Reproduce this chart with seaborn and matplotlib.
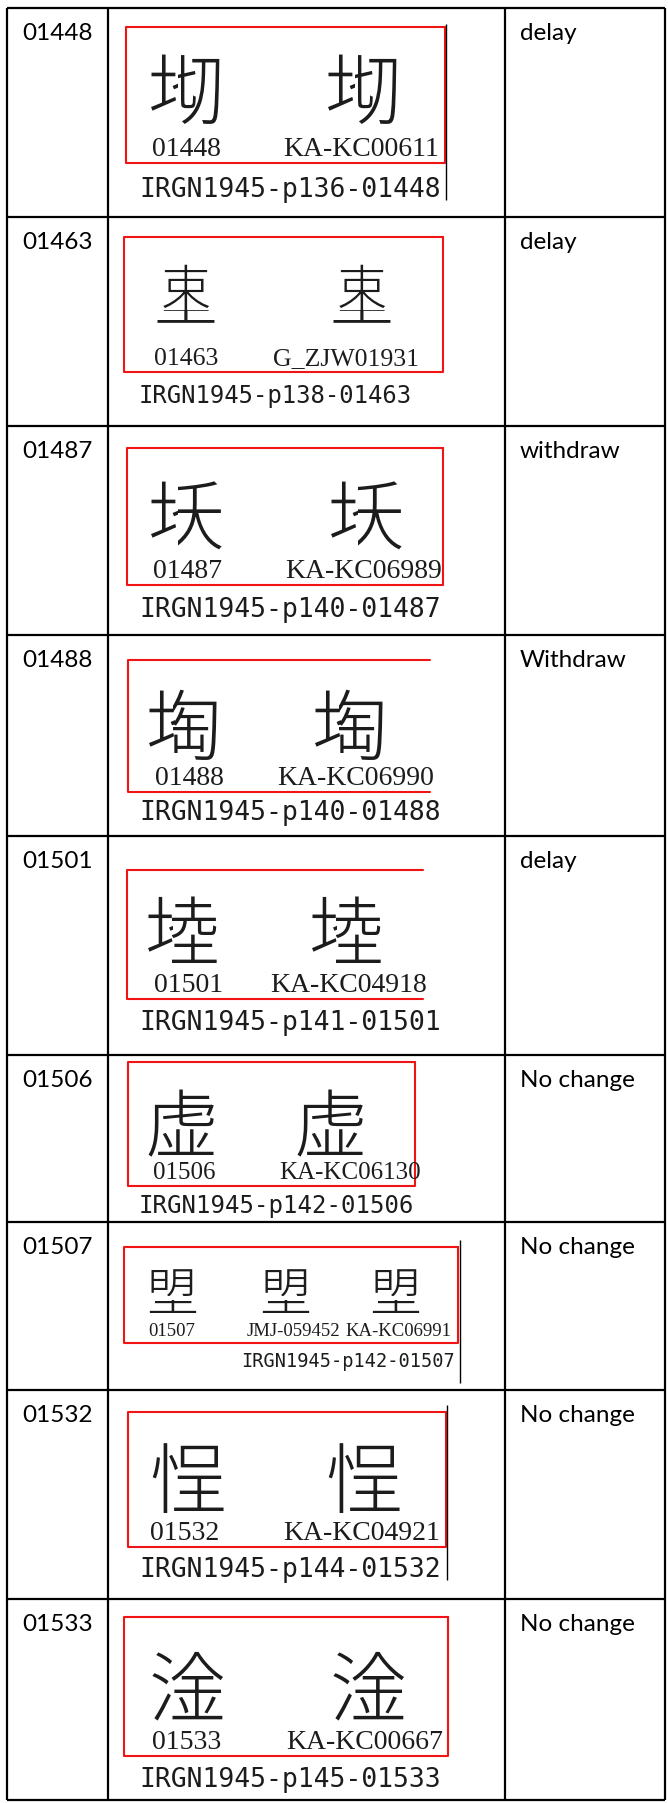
"""
IRGN1945 字形处理意见表：按参考截图重绘为表格图。

每行包含序号、字形截图（红框内为字形与来源编号，下方为 IRGN 页码）和处理意见。
未编码的字形用现有汉字的部件拼合（按矩形裁剪文字）来近似。
"""

import matplotlib

matplotlib.use("Agg")
import matplotlib.pyplot as plt
import seaborn as sns
from matplotlib.transforms import Bbox


# ---- 表格内容 ----
ROW_IDS = ["01448", "01463", "01487", "01488", "01501", "01506", "01507", "01532", "01533"]
STATUS = ["delay", "delay", "withdraw", "Withdraw", "delay",
          "No change", "No change", "No change", "No change"]
SOURCE_LABELS = [
    ["01448", "KA-KC00611"],
    ["01463", "G_ZJW01931"],
    ["01487", "KA-KC06989"],
    ["01488", "KA-KC06990"],
    ["01501", "KA-KC04918"],
    ["01506", "KA-KC06130"],
    ["01507", "JMJ-059452", "KA-KC06991"],
    ["01532", "KA-KC04921"],
    ["01533", "KA-KC00667"],
]
PAGES = ["p136", "p138", "p140", "p140", "p141", "p142", "p142", "p144", "p145"]

# 字形部件：(汉字, 缩放, x 偏移, y 偏移, 裁剪框 x0, y0, x1, y1)，单位为字身宽度
GLYPH_PIECES = {
    "01448": [("地", 1, 0, 0, (0, 0, .40, 1.1)), ("砌", 1, 0, 0, (.40, 0, 1, 1.1))],
    "01463": [("束", .78, .11, .25, (0, .27, 1, 1.1)), ("壁", 1, 0, 0, (0, 0, 1, .27))],
    "01487": [("地", 1, 0, 0, (0, 0, .40, 1.1)), ("沃", 1, 0, 0, (.40, 0, 1, 1.1))],
    "01488": [("地", 1, 0, 0, (0, 0, .38, 1.1)), ("淘", 1, 0, 0, (.36, 0, 1, 1.1))],
    "01501": [("地", 1, 0, 0, (0, 0, .38, 1.1)), ("陸", 1, 0, 0, (.36, 0, 1, 1.1))],
    "01506": [("虚", 1, 0, 0, (0, 0, 1, 1.1))],
    "01507": [("盟", 1, 0, 0, (0, .40, 1, 1.1)), ("壁", 1, 0, 0, (0, 0, 1, .33))],
    "01532": [("悜", 1, 0, 0, (0, 0, 1, 1.1))],
    "01533": [("淦", 1, 0, 0, (0, 0, 1, 1.1))],
}

# ---- 版面（像素） ----
W, H = 668, 1803
ROW_EDGES = [8, 217, 426, 635, 836, 1055, 1222, 1390, 1599, 1800]
COL_EDGES = [7, 108, 505, 665]
RED_BOXES = [  # x0, x1, y0, y1, 是否有右边
    (126, 445, 27, 163, True),
    (124, 443, 237, 372, True),
    (127, 443, 448, 585, True),
    (128, 430, 660, 792, False),
    (127, 423, 870, 999, False),
    (128, 415, 1062, 1186, True),
    (124, 458, 1247, 1343, True),
    (128, 446, 1412, 1547, True),
    (124, 448, 1617, 1756, True),
]
GLYPH_X = [[186, 363], [186, 362], [186, 366], [184, 350], [182, 346],
           [181, 330], [172, 285, 395], [188, 364], [187, 368]]
LABEL_X = [[186, 361], [186, 346], [187, 364], [189, 356], [189, 349],
           [184, 350], [172, 293, 398], [185, 362], [187, 365]]
GLYPH_EM = [77, 64, 77, 77, 75, 74, 52, 77, 77]
GLYPH_BOTTOM = [124, 325, 551, 760, 965, 1157, 1315, 1513, 1722]
LABEL_SIZE = [20, 18.5, 20, 20, 20, 18, 13.5, 20, 20]
IRGN_X = [139, 139, 139, 139, 139, 139, 241, 139, 139]
IRGN_SIZE = [19, 17.2, 19, 19, 19, 17.3, 13.4, 19, 19]
IRGN_BASE = [197, 403, 617, 820, 1030, 1213, 1367, 1577, 1787]
CURSOR_LINES = [(446, 24, 200), (460, 1240, 1383), (447, 1405, 1580)]

CJK = ["Noto Sans CJK JP", "DejaVu Sans"]
INK = "#1c1c1c"
RED = "#f01414"


def to_display_box(ax, x0, y0, x1, y1):
    """数据坐标矩形转为显示坐标 Bbox，用于文字裁剪。"""
    (ax0, ay0), (ax1, ay1) = ax.transData.transform([(x0, y0), (x1, y1)])
    return Bbox.from_extents(min(ax0, ax1), min(ay0, ay1), max(ax0, ax1), max(ay0, ay1))


def draw_glyph(ax, key, cx, ink_bottom, em):
    """用裁剪后的部件拼出一个字形。"""
    left = cx - em / 2
    box_bottom = ink_bottom + 0.04 * em
    for char, scale, ox, oy, (c0, r0, c1, r1) in GLYPH_PIECES[key]:
        size = em * scale
        base = box_bottom - oy * em - 0.12 * size
        t = ax.text(left + ox * em, base, char, fontsize=size * 0.72, ha="left",
                    va="baseline", family=CJK, fontweight="light", color=INK, clip_on=True)
        t.set_clip_box(to_display_box(ax, left + c0 * em, box_bottom - r1 * em,
                                      left + c1 * em, box_bottom - r0 * em))


def main() -> None:
    sns.set_theme(style="white")
    plt.rcParams["font.family"] = ["Lato", "DejaVu Sans"]

    fig = plt.figure(figsize=(W / 100, H / 100), dpi=100)
    ax = fig.add_axes([0, 0, 1, 1])
    ax.set_xlim(0, W)
    ax.set_ylim(H, 0)
    ax.axis("off")

    # 表格线
    ax.hlines(ROW_EDGES, COL_EDGES[0], COL_EDGES[-1], color="black", lw=1.6)
    ax.vlines(COL_EDGES, ROW_EDGES[0], ROW_EDGES[-1], color="black", lw=1.6)

    for i, row_id in enumerate(ROW_IDS):
        top = ROW_EDGES[i]
        ax.text(22, top + 32, row_id, fontsize=17.5, ha="left", va="baseline", color="black")
        ax.text(520, top + 32, STATUS[i], fontsize=17.5, ha="left", va="baseline", color="black")

        x0, x1, y0, y1, has_right = RED_BOXES[i]
        if has_right:
            ax.plot([x1, x0, x0, x1, x1], [y0, y0, y1, y1, y0], color=RED, lw=1.5)
        else:
            ax.plot([x1, x0, x0, x1], [y0, y0, y1, y1], color=RED, lw=1.5)

        for cx in GLYPH_X[i]:
            draw_glyph(ax, row_id, cx, GLYPH_BOTTOM[i], GLYPH_EM[i])
        for lx, label in zip(LABEL_X[i], SOURCE_LABELS[i]):
            ax.text(lx, y1 - 7, label, fontsize=LABEL_SIZE[i], ha="center", va="baseline",
                    family=["Liberation Serif"], color=INK)

        ax.text(IRGN_X[i], IRGN_BASE[i], f"IRGN1945-{PAGES[i]}-{row_id}", fontsize=IRGN_SIZE[i],
                ha="left", va="baseline", family=["DejaVu Sans Mono"], color=INK)

    for x, ya, yb in CURSOR_LINES:
        ax.vlines(x, ya, yb, color="black", lw=1.0)

    fig.savefig("out.png", dpi=100)
    plt.close(fig)


if __name__ == "__main__":
    main()
